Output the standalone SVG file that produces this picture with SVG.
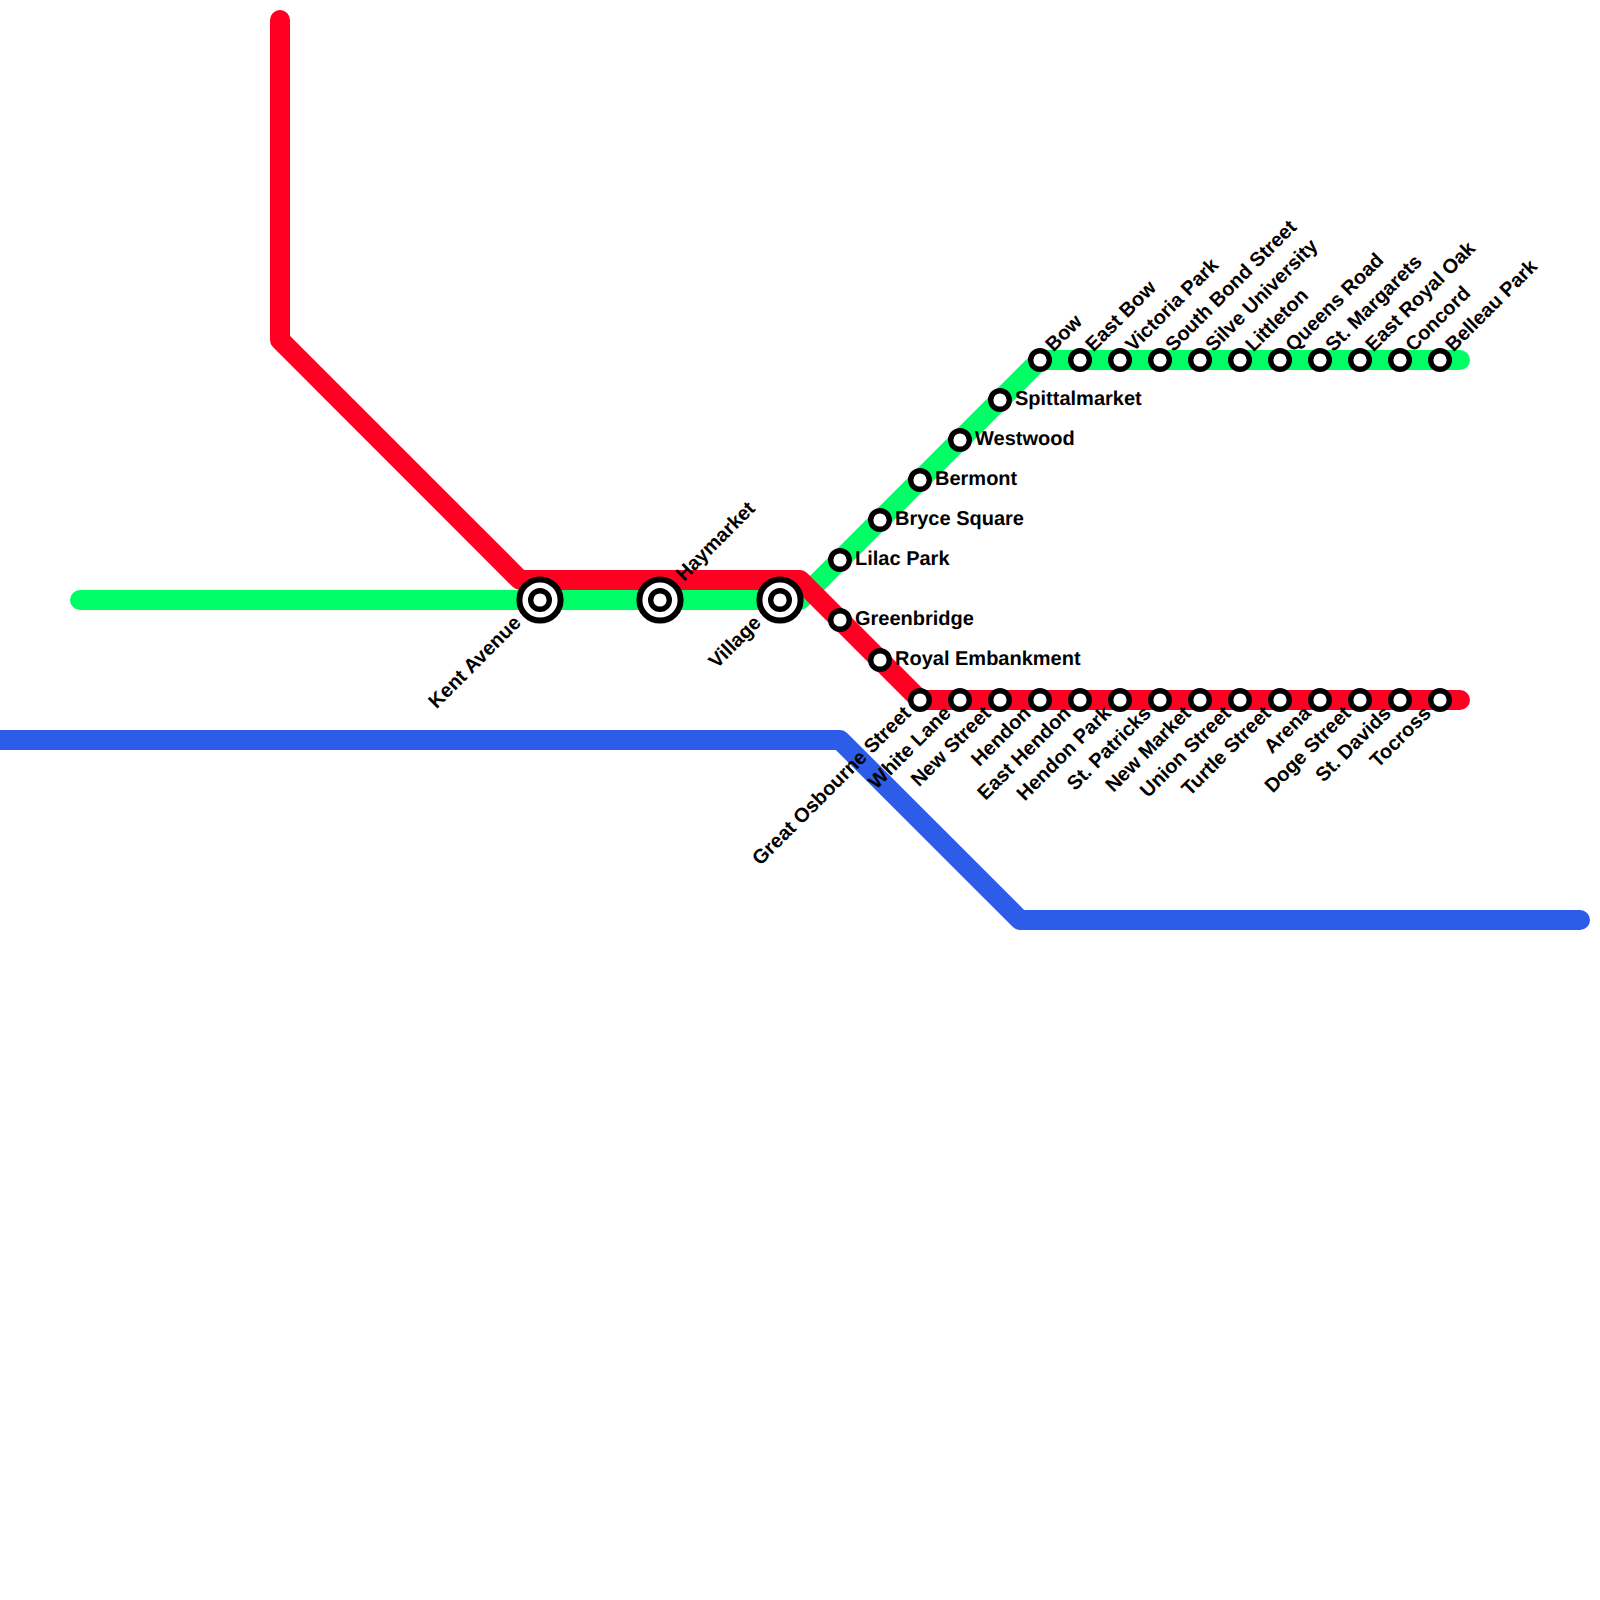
<svg xmlns="http://www.w3.org/2000/svg" width="1600" height="1600" viewBox="0 0 1600 1600">
<style>
.l{fill:none;stroke-width:20;stroke-linecap:round;stroke-linejoin:round}
.s{fill:#fff;stroke:#000;stroke-width:5.4}
.d{fill:#fff;stroke:#000;stroke-width:6}
text{font-family:"Liberation Sans",Arial,sans-serif;font-weight:bold;font-size:20px;fill:#000;text-rendering:geometricPrecision}
.e{text-anchor:end}
</style>
<rect width="1600" height="1600" fill="#fff"/>
<g id="connectors">
<path class="l" stroke="#2d5ce8" d="M-20 740H840L1020 920H1580"/>
<path class="l" stroke="#00ff66" d="M80 600H800L1040 360H1460"/>
<path class="l" stroke="#ff0022" d="M280 20V340L520 580H800L920 700H1460"/>
</g>
<g id="kent-avenue"><circle class="d" cx="540" cy="600" r="20.6"/><circle class="s" cx="540" cy="600" r="9.3"/><text class="e" transform="translate(522 624) rotate(-45)">Kent Avenue</text></g>
<g id="haymarket"><circle class="d" cx="660" cy="600" r="20.6"/><circle class="s" cx="660" cy="600" r="9.3"/><text transform="translate(684 582) rotate(-45)">Haymarket</text></g>
<g id="village"><circle class="d" cx="780" cy="600" r="20.6"/><circle class="s" cx="780" cy="600" r="9.3"/><text class="e" transform="translate(762 624) rotate(-45)">Village</text></g>
<g id="lilac-park"><circle class="s" cx="840" cy="560" r="9.3"/><text x="855" y="564.5">Lilac Park</text></g>
<g id="bryce-square"><circle class="s" cx="880" cy="520" r="9.3"/><text x="895" y="524.5">Bryce Square</text></g>
<g id="bermont"><circle class="s" cx="920" cy="480" r="9.3"/><text x="935" y="484.5">Bermont</text></g>
<g id="westwood"><circle class="s" cx="960" cy="440" r="9.3"/><text x="975" y="444.5">Westwood</text></g>
<g id="spittalmarket"><circle class="s" cx="1000" cy="400" r="9.3"/><text x="1015" y="404.5">Spittalmarket</text></g>
<g id="bow"><circle class="s" cx="1040" cy="360" r="9.3"/><text transform="translate(1053.500 352.500) rotate(-45)">Bow</text></g>
<g id="east-bow"><circle class="s" cx="1080" cy="360" r="9.3"/><text transform="translate(1093.500 352.500) rotate(-45)">East Bow</text></g>
<g id="victoria-park"><circle class="s" cx="1120" cy="360" r="9.3"/><text transform="translate(1133.500 352.500) rotate(-45)">Victoria Park</text></g>
<g id="south-bond-street"><circle class="s" cx="1160" cy="360" r="9.3"/><text transform="translate(1173.500 352.500) rotate(-45)">South Bond Street</text></g>
<g id="silve-university"><circle class="s" cx="1200" cy="360" r="9.3"/><text transform="translate(1213.500 352.500) rotate(-45)">Silve University</text></g>
<g id="littleton"><circle class="s" cx="1240" cy="360" r="9.3"/><text transform="translate(1253.500 352.500) rotate(-45)">Littleton</text></g>
<g id="queens-road"><circle class="s" cx="1280" cy="360" r="9.3"/><text transform="translate(1293.500 352.500) rotate(-45)">Queens Road</text></g>
<g id="st-margarets"><circle class="s" cx="1320" cy="360" r="9.3"/><text transform="translate(1333.500 352.500) rotate(-45)">St. Margarets</text></g>
<g id="east-royal-oak"><circle class="s" cx="1360" cy="360" r="9.3"/><text transform="translate(1373.500 352.500) rotate(-45)">East Royal Oak</text></g>
<g id="concord"><circle class="s" cx="1400" cy="360" r="9.3"/><text transform="translate(1413.500 352.500) rotate(-45)">Concord</text></g>
<g id="belleau-park"><circle class="s" cx="1440" cy="360" r="9.3"/><text transform="translate(1453.500 352.500) rotate(-45)">Belleau Park</text></g>
<g id="greenbridge"><circle class="s" cx="840" cy="620" r="9.3"/><text x="855" y="624.5">Greenbridge</text></g>
<g id="royal-embankment"><circle class="s" cx="880" cy="660" r="9.3"/><text x="895" y="664.5">Royal Embankment</text></g>
<g id="great-osbourne-street"><circle class="s" cx="920" cy="700" r="9.3"/><text class="e" transform="translate(912 714.500) rotate(-45)">Great Osbourne Street</text></g>
<g id="white-lane"><circle class="s" cx="960" cy="700" r="9.3"/><text class="e" transform="translate(952 714.500) rotate(-45)">White Lane</text></g>
<g id="new-street"><circle class="s" cx="1000" cy="700" r="9.3"/><text class="e" transform="translate(992 714.500) rotate(-45)">New Street</text></g>
<g id="hendon"><circle class="s" cx="1040" cy="700" r="9.3"/><text class="e" transform="translate(1032 714.500) rotate(-45)">Hendon</text></g>
<g id="east-hendon"><circle class="s" cx="1080" cy="700" r="9.3"/><text class="e" transform="translate(1072 714.500) rotate(-45)">East Hendon</text></g>
<g id="hendon-park"><circle class="s" cx="1120" cy="700" r="9.3"/><text class="e" transform="translate(1112 714.500) rotate(-45)">Hendon Park</text></g>
<g id="st-patricks"><circle class="s" cx="1160" cy="700" r="9.3"/><text class="e" transform="translate(1152 714.500) rotate(-45)">St. Patricks</text></g>
<g id="new-market"><circle class="s" cx="1200" cy="700" r="9.3"/><text class="e" transform="translate(1192 714.500) rotate(-45)">New Market</text></g>
<g id="union-street"><circle class="s" cx="1240" cy="700" r="9.3"/><text class="e" transform="translate(1232 714.500) rotate(-45)">Union Street</text></g>
<g id="turtle-street"><circle class="s" cx="1280" cy="700" r="9.3"/><text class="e" transform="translate(1272 714.500) rotate(-45)">Turtle Street</text></g>
<g id="arena"><circle class="s" cx="1320" cy="700" r="9.3"/><text class="e" transform="translate(1312 714.500) rotate(-45)">Arena</text></g>
<g id="doge-street"><circle class="s" cx="1360" cy="700" r="9.3"/><text class="e" transform="translate(1352 714.500) rotate(-45)">Doge Street</text></g>
<g id="st-davids"><circle class="s" cx="1400" cy="700" r="9.3"/><text class="e" transform="translate(1392 714.500) rotate(-45)">St. Davids</text></g>
<g id="tocross"><circle class="s" cx="1440" cy="700" r="9.3"/><text class="e" transform="translate(1432 714.500) rotate(-45)">Tocross</text></g>
</svg>
